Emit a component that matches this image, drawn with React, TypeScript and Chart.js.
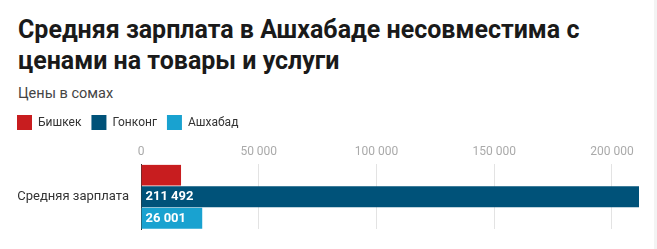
import React, { useEffect, useRef } from "react";
import { Chart, registerables } from "chart.js";

Chart.register(...registerables);

const categories = ["Средняя зарплата"];
const seriesNames = ["Бишкек", "Гонконг", "Ашхабад"];
const bishkekValues = [17000];
const hongKongValues = [211492];
const ashgabatValues = [26001];
const tickValues = [0, 50000, 100000, 150000, 200000];

const seriesColors = ["#c81d1f", "#005279", "#19a2d0"];

const fmt = (v: number) => String(Math.round(v)).replace(/\B(?=(\d{3})+(?!\d))/g, " ");

const FONT = "Roboto, 'Noto Sans', sans-serif";

const barLabels = {
  id: "barLabels",
  afterDatasetsDraw(chart: any) {
    const ctx = chart.ctx;
    ctx.save();
    ctx.font = `bold 13px ${FONT}`;
    ctx.fillStyle = "#ffffff";
    ctx.textBaseline = "middle";
    ctx.textAlign = "left";
    chart.data.datasets.forEach((ds: any, di: number) => {
      const meta = chart.getDatasetMeta(di);
      meta.data.forEach((el: any, i: number) => {
        const text = fmt(ds.data[i]);
        const w = ctx.measureText(text).width;
        const left = Math.min(el.x, el.base);
        const width = Math.abs(el.x - el.base);
        if (w + 10 <= width) {
          ctx.fillText(text, left + 4, el.y + 0.5);
        }
      });
    });
    ctx.restore();
  },
};

export default function App() {
  const ref = useRef<HTMLCanvasElement>(null);
  useEffect(() => {
    if (!ref.current) return;
    const allValues = [...bishkekValues, ...hongKongValues, ...ashgabatValues];
    const chart = new Chart(ref.current, {
      type: "bar",
      data: {
        labels: categories,
        datasets: [
          { label: seriesNames[0], data: bishkekValues, backgroundColor: seriesColors[0] },
          { label: seriesNames[1], data: hongKongValues, backgroundColor: seriesColors[1] },
          { label: seriesNames[2], data: ashgabatValues, backgroundColor: seriesColors[2] },
        ],
      },
      options: {
        indexAxis: "y",
        animation: false,
        responsive: false,
        maintainAspectRatio: false,
        datasets: { bar: { categoryPercentage: 1, barPercentage: 0.97 } },
        layout: { padding: { left: 7, right: 18, top: 4, bottom: 20 } },
        plugins: {
          tooltip: { enabled: false },
          legend: {
            position: "top",
            align: "start",
            labels: {
              boxWidth: 15,
              boxHeight: 15,
              padding: 10,
              color: "#333",
              font: { family: FONT, size: 12 },
            },
          },
        },
        scales: {
          x: {
            position: "top",
            min: 0,
            max: Math.max(...allValues),
            border: { display: false },
            grid: { color: "#e3e3e3", drawTicks: false },
            afterBuildTicks: (scale: any) => {
              scale.ticks = tickValues.map((value) => ({ value }));
            },
            ticks: {
              padding: 5,
              color: "#aaaaaa",
              font: { family: FONT, size: 12 },
              maxRotation: 0,
              autoSkip: false,
              callback: (v: any) => fmt(Number(v)),
            },
          },
          y: {
            z: 1,
            border: { display: true, color: "#333", width: 1 },
            grid: { display: false, drawTicks: false },
            ticks: {
              padding: 12,
              color: "#333",
              font: { family: FONT, size: 13 },
            },
            afterFit: (scale: any) => {
              scale.width = 134;
            },
          },
        },
      },
      plugins: [barLabels],
    } as any);
    return () => chart.destroy();
  }, []);

  return (
    <div
      style={{
        position: "absolute",
        left: 0,
        top: 0,
        width: 657,
        height: 249,
        background: "#fff",
        fontFamily: FONT,
        overflow: "hidden",
      }}
    >
      <div
        style={{
          position: "absolute",
          left: 18,
          top: 14,
          width: 630,
          fontSize: 25,
          fontWeight: 700,
          lineHeight: "31px",
          color: "#1a1a1a",
        }}
      >
        Средняя зарплата в Ашхабаде несовместима с<br />ценами на товары и услуги
      </div>
      <div
        style={{
          position: "absolute",
          left: 18,
          top: 85,
          fontSize: 14.5,
          lineHeight: "18px",
          color: "#444",
        }}
      >
        Цены в сомах
      </div>
      <div style={{ position: "absolute", left: 0, top: 101, width: 657, height: 148 }}>
        <canvas ref={ref} width={657} height={148} style={{ width: 657, height: 148, display: "block" }} />
      </div>
      <div style={{ position: "absolute", left: 654, top: 0, width: 3, height: 249, background: "#f3f3f3" }} />
    </div>
  );
}
